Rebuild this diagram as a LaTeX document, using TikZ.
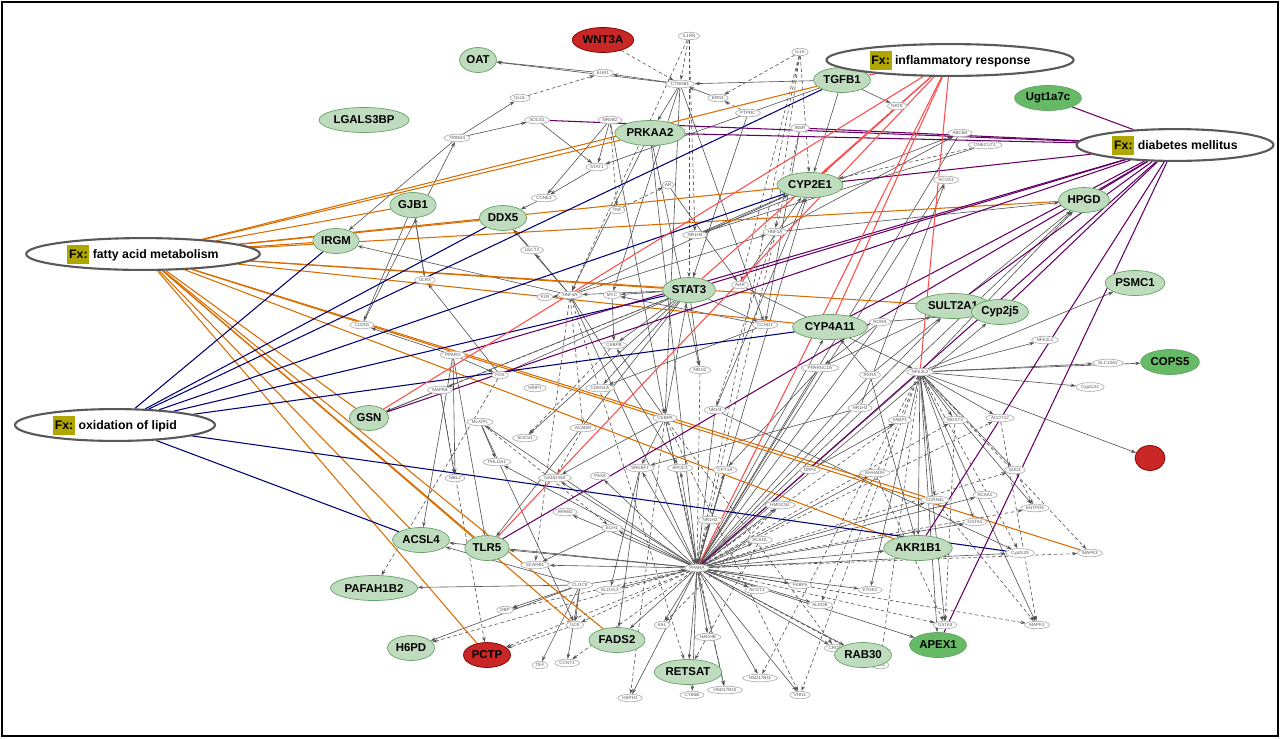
\documentclass[tikz,border=0pt]{standalone}
\usepackage{fontspec}
\setmainfont{Liberation Sans}
\usetikzlibrary{shapes.geometric,arrows.meta,backgrounds}
\begin{document}
\begin{tikzpicture}[x=0.02cm,y=-0.02cm,
 sm/.style={ellipse,draw=gray!60,fill=white,inner sep=0.6pt,font=\fontsize{2.6}{3}\selectfont,text=gray!70!black},
 gn/.style={ellipse,draw=green!40!black!60,fill=green!45!black!25!white,inner sep=0.8pt,minimum height=0.5cm,font=\fontsize{6.5}{7}\selectfont\bfseries},
 dg/.style={gn,fill=green!55!black!60!white},
 rd/.style={gn,fill=red!75!black!85!white,draw=red!50!black},
 fx/.style={ellipse,draw=gray!70!black,line width=1.2pt,fill=white,inner xsep=4pt,inner ysep=1pt,font=\fontsize{7}{8}\selectfont\bfseries},
 ed/.style={draw=gray!65!black,line width=0.35pt,-{Stealth[length=3pt,width=2pt]}},
 dd/.style={ed,dashed,dash pattern=on 2pt off 1.5pt},
 oa/.style={draw=orange!85!black,line width=0.6pt},
 nv/.style={draw=blue!45!black,line width=0.6pt},
 pu/.style={draw=violet!80!black,line width=0.6pt},
 pk/.style={draw=red!70!white,line width=0.6pt}]
\useasboundingbox (0,0) rectangle (1280,738);
\draw[line width=0.8pt] (2,2) rectangle (1278,736);
\newcommand{\fxl}{\colorbox{olive!70!yellow}{\hspace{-2pt}Fx:\hspace{-2pt}}}
% small nodes
\foreach \n/\x/\y/\t in {il1rn/689/36/IL1RN, il1a/800/52/IL1A, egr1/603/73/EGR1, ctnnb1/680/84/CTNNB1, glul/520/98/GLUL, ern1/718/98/ERN1, nat8/897/106/NAT8, socs1/537/120/SOCS1, nr0b2/610/120/NR0B2, ptprc/748/113/PTPRC, trim24/457/138/TRIM24, insr/800/128/INSR, abcb4/960/133/ABCB4, onecut/985/145/ONECUT1, stat1/597/167/STAT1, ar/668/185/AR, ccne1/544/198/CCNE1, hnf1a/775/232/HNF1A, nr1h4/695/235/NR1H4, tnf/617/210/TNF, acox1/946/180/ACOX1, lect2/532/250/LECT2, glrx/425/280/GLRX, hnf4a/570/295/HNF4A, myc/612/295/MYC, f2r/545/297/F2R, ahr/740/285/AHR, cldn1/362/325/CLDN1, pparg/453/355/PPARG, fos/500/375/FOS, mapk8/440/390/MAPK8, cebpb/614/345/CEBPB, ccnd1/765/325/CCND1, rora/880/322/RORA, nfe2l2/920/372/NFE2L2, cdkn1a/600/388/CDKN1A, pgc/820/368/PPARGC1A, nr1i2/700/370/NR1I2, rxra/870/375/RXRA, cebpa/665/418/CEBPA, nr1i3/715/410/NR1I3, nrip1/535/388/NRIP1, mlxipl/480/422/MLXIPL, socs3/525/438/SOCS3, acadm/583/428/ACADM, phlda1/497/462/PHLDA1, mbl2/455/478/MBL2, gadd/555/478/GADD45A, pax8/600/476/PAX8, srebf1/640/468/SREBF1, apoc3/680/468/APOC3, cpt1a/725/470/CPT1A, clock/580/585/CLOCK, ppara/697/568/PPARA, arrb2/565/512/ARRB2, ech1/612/528/ECH1, elovl3/610/590/ELOVL3, scarb1/535/565/SCARB1, dbp/505/610/DBP, gck/575/625/GCK, tef/540/665/TEF, ccnt1/567/663/CCNT1, hsph1/630/698/HSPH1, asl/662/625/ASL, hadhb/708/637/HADHB, cyb5b/692/695/CYB5B, hsd10/725/690/HSD17B10, hsd11/760/678/HSD17B11, vnn1/800/695/VNN1, crot/835/648/CROT, eci1/880/665/ECI1, acot1/757/590/ACOT1, fkbp/800/585/FKBP5, aldob/820/605/ALDOB, etnk/870/590/ETNK1, gsta3/945/625/GSTA3, mapk1/1037/625/MAPK1, mapk3/1090/553/MAPK3, cyp2c/1020/553/Cyp2c29, gsta/975/522/GSTA1/2, entpd5/1035/508/ENTPD5, sod1/1015/470/SOD1, acot12/1000/418/ACOT12, mgst3/955/420/MGST3, cyp2c22/1090/387/Cyp2c22, slc13/1108/363/SLC13A2, nfe2l1/1045/340/NFE2L1, acaa1/985/495/ACAA1, ccrn4l/935/500/CCRN4L, acox2/875/473/EHHADH, dpp4/810/470/DPP4, nr1h3/860/408/NR1H3, ehh/780/505/HMGCS2, rxr2/900/420/FABP1, abc/760/540/ACADL, nrf/710/520/NR1H2}
 {\node[sm] (\n) at (\x,\y) {\t};}
% green nodes
\foreach \n/\x/\y/\t in {oat/478/60/OAT, tgfb1/842/80/TGFB1, lgals/364/120/LGALS3BP, prkaa2/650/133/PRKAA2, cyp2e1/810/185/CYP2E1, gjb1/413/205/GJB1, ddx5/503/218/DDX5, irgm/336/241/IRGM, hpgd/1084/200/HPGD, stat3/689/290/STAT3, sult/953/306/SULT2A1, cyp2j5/1000/312/Cyp2j5, psmc1/1135/283/PSMC1, cyp4a11/830/327/CYP4A11, gsn/369/418/GSN, acsl4/421/540/ACSL4, tlr5/487/548/TLR5, akr1b1/918/548/AKR1B1, pafah/374/588/PAFAH1B2, h6pd/411/648/H6PD, fads2/617/640/FADS2, retsat/688/672/RETSAT, rab30/863/655/RAB30}
 {\node[gn] (\n) at (\x,\y) {\t};}
\foreach \n/\x/\y/\t in {ugt/1048/98/Ugt1a7c, cops5/1170/362/COPS5, apex1/938/645/APEX1}
 {\node[dg] (\n) at (\x,\y) {\t};}
\node[rd] (wnt3a) at (603,40) {WNT3A};
\node[rd] (pctp) at (487,655) {PCTP};
\node[rd,minimum width=0.6cm] (pth) at (1150,458) {};
% Fx nodes
\node[fx,minimum width=3.3cm] (fxi) at (950,60) {\fxl\ inflammatory response};
\node[fx,minimum width=2.7cm] (fxd) at (1175,145) {\fxl\ diabetes mellitus};
\node[fx,minimum width=4.4cm] (fxf) at (143,254) {\fxl\ fatty acid metabolism};
\node[fx,minimum width=4.0cm] (fxo) at (115,425) {\fxl\ oxidation of lipid};
\begin{pgfonlayer}{background}
% gray solid edges
\foreach \a/\b in {ppara/tlr5,ppara/acsl4,ppara/fads2,ppara/retsat,ppara/asl,ppara/hadhb,ppara/cyb5b,ppara/hsd10,ppara/hsd11,ppara/vnn1,ppara/crot,ppara/rab30,ppara/apex1,ppara/fkbp,ppara/acot1,ppara/aldob,ppara/etnk,ppara/akr1b1,ppara/gadd,ppara/phlda1,ppara/pax8,ppara/srebf1,ppara/apoc3,ppara/cpt1a,ppara/ech1,ppara/arrb2,ppara/elovl3,ppara/scarb1,ppara/cyp4a11,ppara/cyp2e1,ppara/hpgd,ppara/sult,ppara/cyp2j5,ppara/hsph1,ppara/mlxipl,ppara/nrf,ppara/abc,ppara/ehh,ppara/acox2,ppara/ccrn4l,ppara/cyp2c,ppara/gsta,ppara/acaa1,clock/dbp,clock/tef,clock/ccnt1,clock/gck,clock/acsl4,clock/h6pd,clock/ppara,clock/pafah,stat3/hnf4a,stat3/myc,stat3/cebpb,stat3/ccnd1,stat3/cdkn1a,stat3/socs3,stat3/gsn,stat3/fos,stat3/nr1i2,stat3/tlr5,ctnnb1/oat,ctnnb1/egr1,ctnnb1/myc,ctnnb1/ccnd1,ctnnb1/prkaa2,ctnnb1/cebpa,egr1/oat,trim24/glul,trim24/socs1,trim24/irgm,gjb1/glrx,gjb1/cldn1,hnf4a/irgm,hnf4a/ddx5,hnf4a/f2r,hnf4a/lect2,hnf4a/cyp2e1,hnf4a/hnf1a,hnf4a/apoc3,hnf4a/ppara,nfe2l2/gsta3,nfe2l2/mapk1,nfe2l2/sod1,nfe2l2/mgst3,nfe2l2/acot12,nfe2l2/gsta,nfe2l2/entpd5,nfe2l2/akr1b1,nfe2l2/cyp2c22,nfe2l2/slc13,nfe2l2/psmc1,nfe2l2/cops5,nfe2l2/pth,nfe2l2/ccrn4l,nfe2l2/apex1,nfe2l2/etnk,nfe2l2/nfe2l1,nfe2l2/hpgd,nfe2l2/ppara,rora/cyp2j5,rora/ppara,rora/pgc,rxra/ppara,rxra/cyp4a11,rxra/hpgd,rxra/akr1b1,pgc/ppara,pgc/cpt1a,pgc/sult,cebpa/ppara,cebpa/gadd,cebpa/cebpb,cebpa/stat3,cebpa/srebf1,nr1i3/cyp2e1,nr1i3/ppara,nr1i3/cyp2c,pparg/fos,pparg/acsl4,pparg/mbl2,pparg/tlr5,pparg/cldn1,mapk8/gsn,mapk8/mbl2,mlxipl/phlda1,mlxipl/gck,tgfb1/nat8,tgfb1/cyp2e1,tgfb1/ctnnb1,tgfb1/stat1,ccnd1/cdkn1a,ccnd1/myc,nr1h4/cyp2e1,nr1h4/abcb4,hnf1a/abcb4,hnf1a/hpgd,nr0b2/ccne1,nr0b2/stat1,nr0b2/cebpa,socs1/stat1,prkaa2/hnf4a,prkaa2/nr1i2,prkaa2/ppara,ar/ahr,ahr/cyp2e1,ahr/nfe2l2,ccne1/ddx5,dpp4/rxr2,nr1h3/acox1,nr1h3/srebf1,fos/glrx,lect2/ddx5,myc/cebpb,srebf1/fads2,srebf1/elovl3,onecut/nr1h4,insr/ccnd1,acox1/ppara,abcb4/ppara,stat1/ccne1,cldn1/trim24,glrx/gjb1,ern1/ctnnb1,ptprc/stat3,rab30/eci1,ech1/scarb1}
 {\draw[ed] (\a) -- (\b);}
% gray dashed edges
\foreach \a/\b in {wnt3a/ctnnb1,il1rn/ctnnb1,il1rn/stat3,il1rn/hnf4a,il1rn/nr1h4,il1a/ern1,il1a/ppara,il1a/cyp2e1,il1a/ahr,il1a/hnf1a,nat8/cyp2e1,ptprc/ern1,insr/ppara,ppara/mapk3,ppara/gsta3,ppara/mapk1,ppara/eci1,ppara/pctp,ppara/dbp,ppara/gck,ppara/ccnt1,ppara/sod1,ppara/entpd5,ppara/acot12,ppara/mgst3,ppara/h6pd,cebpa/hsd10,cebpa/vnn1,cebpa/hsph1,cebpa/crot,nfe2l2/mapk3,nfe2l2/cyp2c,nfe2l2/aldob,nfe2l2/vnn1,nfe2l2/hsd11,nfe2l2/eci1,mgst3/gsta3,acot12/mapk1,sod1/entpd5,hnf4a/scarb1,hnf4a/retsat,hnf4a/acadm,stat3/mapk8,fos/pafah,mapk8/pctp,mlxipl/ech1,cebpb/socs3,acadm/gadd,nr0b2/tnf,tnf/ar,hnf1a/nr1i3,nr1i2/ppara,rxr2/ppara,gck/pctp,onecut/cyp2e1,glul/egr1,acox2/gsta3,ehh/asl,abc/retsat,ccrn4l/mapk1}
 {\draw[dd] (\a) -- (\b);}
% Fx connectors
\foreach \t in {tgfb1,prkaa2,cyp2e1,hpgd,ddx5,irgm,gjb1,stat3,sult,cyp4a11,gsn,tlr5,acsl4,pctp,fads2,akr1b1,mapk3,gck,ccrn4l}
 \draw[oa] (fxf) -- (\t);
\foreach \t in {tgfb1,ddx5,stat3,cyp4a11,acsl4,cyp2c,irgm,cyp2e1}
 \draw[nv] (fxo) -- (\t);
\foreach \t in {ugt,prkaa2,cyp2e1,hpgd,stat3,sult,cyp2j5,cyp4a11,ppara,akr1b1,gsn,tlr5,socs1,insr,apex1,pparg}
 \draw[pu] (fxd) -- (\t);
\foreach \t in {tgfb1,cyp2e1,stat3,ppara,gsn,tlr5,nfe2l2,cyp4a11}
 \draw[pk] (fxi) -- (\t);
\end{pgfonlayer}
\end{tikzpicture}
\end{document}
